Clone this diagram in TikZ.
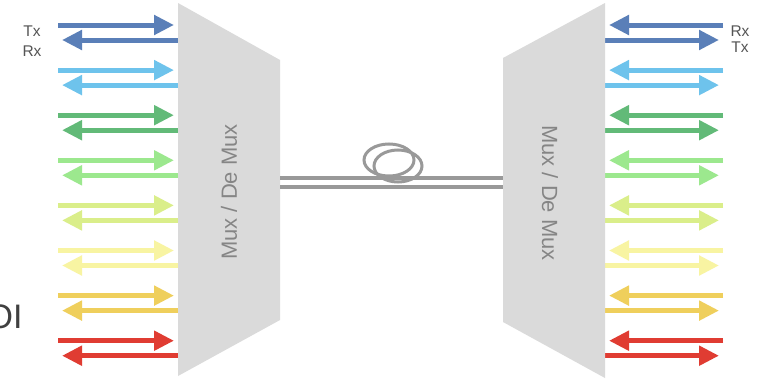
\documentclass[tikz,border=0pt]{standalone}
\usepackage{fontspec}
\setmainfont{Liberation Sans}
\usetikzlibrary{arrows.meta}
\definecolor{cA}{HTML}{5A7FB8}
\definecolor{cB}{HTML}{6EC3EC}
\definecolor{cC}{HTML}{62BA78}
\definecolor{cD}{HTML}{9CE88E}
\definecolor{cE}{HTML}{DAEE8A}
\definecolor{cF}{HTML}{F8F4A2}
\definecolor{cG}{HTML}{EFCF5C}
\definecolor{cH}{HTML}{E03C32}
\definecolor{muxgray}{HTML}{DADADA}
\definecolor{muxtext}{HTML}{858585}
\definecolor{labeltext}{HTML}{555555}
\definecolor{fiber}{HTML}{999999}
\begin{document}
\begin{tikzpicture}[x=1pt,y=-1pt,
  sig/.style={line width=5pt,-{Triangle[length=20pt,width=19pt]}},
  lbl/.style={text=labeltext,font=\fontsize{15.5}{16}\selectfont,inner sep=0pt},
  muxlbl/.style={text=muxtext,font=\fontsize{22}{24}\selectfont,inner sep=0pt},
  coil/.style={draw=fiber,line width=3pt},
  fib/.style={draw=fiber,line width=3.5pt}]
\clip (0,0) rectangle (760,380);
\fill[white] (0,0) rectangle (760,380);
% signal arrows
\foreach \c [count=\i from 0] in {cA,cB,cC,cD,cE,cF,cG,cH} {
  \pgfmathsetmacro\ya{25+45.1*\i}
  \pgfmathsetmacro\yb{\ya+15}
  \coordinate (LTs\i) at (58,\ya);
  \coordinate (LTe\i) at (174,\ya);
  \coordinate (LRs\i) at (182,\yb);
  \coordinate (LRe\i) at (62,\yb);
  \coordinate (RRs\i) at (723,\ya);
  \coordinate (RRe\i) at (609,\ya);
  \coordinate (RTs\i) at (600,\yb);
  \coordinate (RTe\i) at (719,\yb);
  \draw[sig,draw=\c,fill=\c] (LTs\i) -- (LTe\i);
  \draw[sig,draw=\c,fill=\c] (LRs\i) -- (LRe\i);
  \draw[sig,draw=\c,fill=\c] (RRs\i) -- (RRe\i);
  \draw[sig,draw=\c,fill=\c] (RTs\i) -- (RTe\i);
}
% multiplexers
\fill[muxgray] (178,3) -- (280,60) -- (280,320) -- (178,376) -- cycle;
\fill[muxgray] (605,3) -- (503,58) -- (503,322) -- (605,378) -- cycle;
\node[muxlbl,rotate=90] (muxL) at (229,192) {Mux / De Mux};
\node[muxlbl,rotate=-90] (muxR) at (550,193) {Mux / De Mux};
% fiber
\coordinate (fa1) at (280,178);
\coordinate (fa2) at (503,178);
\coordinate (fb1) at (280,187);
\coordinate (fb2) at (503,187);
\draw[coil] (389,160) ellipse [x radius=25, y radius=16];
\draw[coil] (398,166) ellipse [x radius=24, y radius=16];
\draw[fib] (fa1) -- (fa2);
\draw[fib] (fb1) -- (fb2);
% labels
\node[lbl] (tl) at (32,31) {Tx};
\node[lbl] (rl) at (32,51) {Rx};
\node[lbl] (rr) at (740,31) {Rx};
\node[lbl] (tr) at (740,47) {Tx};
\node[anchor=base west,inner sep=0pt,text=black!75,font=\fontsize{34}{36}\selectfont] (oi) at (-13.5,328) {OI};
\end{tikzpicture}
\end{document}
